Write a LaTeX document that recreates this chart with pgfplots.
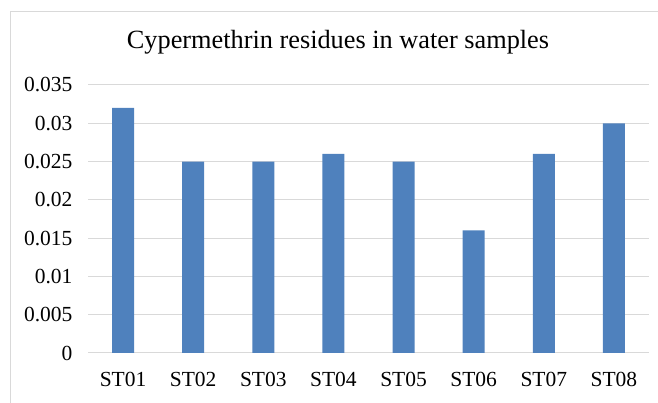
\documentclass[border=0pt]{standalone}
\usepackage{pgfplots}
\pgfplotsset{compat=1.18}
\usepackage{fontspec}
\setmainfont{Liberation Serif}
\definecolor{barblue}{HTML}{4F81BD}
\definecolor{gridgray}{HTML}{D9D9D9}
\begin{document}
\begin{tikzpicture}[x=1pt,y=1pt]
\path[use as bounding box] (0,0) rectangle (658,403);
\draw[gridgray, line width=1pt] (10.5,0) -- (10.5,391) -- (658,391);
\node[font=\fontsize{26.3}{30}\selectfont] at (338,360.5) {Cypermethrin residues in water samples};
\begin{axis}[
  at={(88pt,50pt)}, anchor=south west,
  scale only axis, width=561pt, height=268pt,
  xmin=-0.5, xmax=7.5, ymin=0, ymax=0.035,
  ytick={0,0.005,0.01,0.015,0.02,0.025,0.03,0.035},
  yticklabels={0,0.005,0.01,0.015,0.02,0.025,0.03,0.035},
  xtick={0,1,2,3,4,5,6,7},
  xticklabels={ST01,ST02,ST03,ST04,ST05,ST06,ST07,ST08},
  scaled y ticks=false,
  axis line style={draw=none},
  major tick length=0pt,
  ymajorgrids, grid style={gridgray, line width=1pt},
  tick label style={font=\fontsize{21.5}{24}\selectfont},
  yticklabel style={xshift=-12pt},
  xticklabel style={yshift=-16pt},
  /pgf/number format/assume math mode=true,
  clip=false,
]
\addplot[ybar, bar width=22pt, fill=barblue, draw=none] coordinates {
(0,0.032) (1,0.025) (2,0.025) (3,0.026) (4,0.025) (5,0.016) (6,0.026) (7,0.030)};
\end{axis}
\end{tikzpicture}
\end{document}
